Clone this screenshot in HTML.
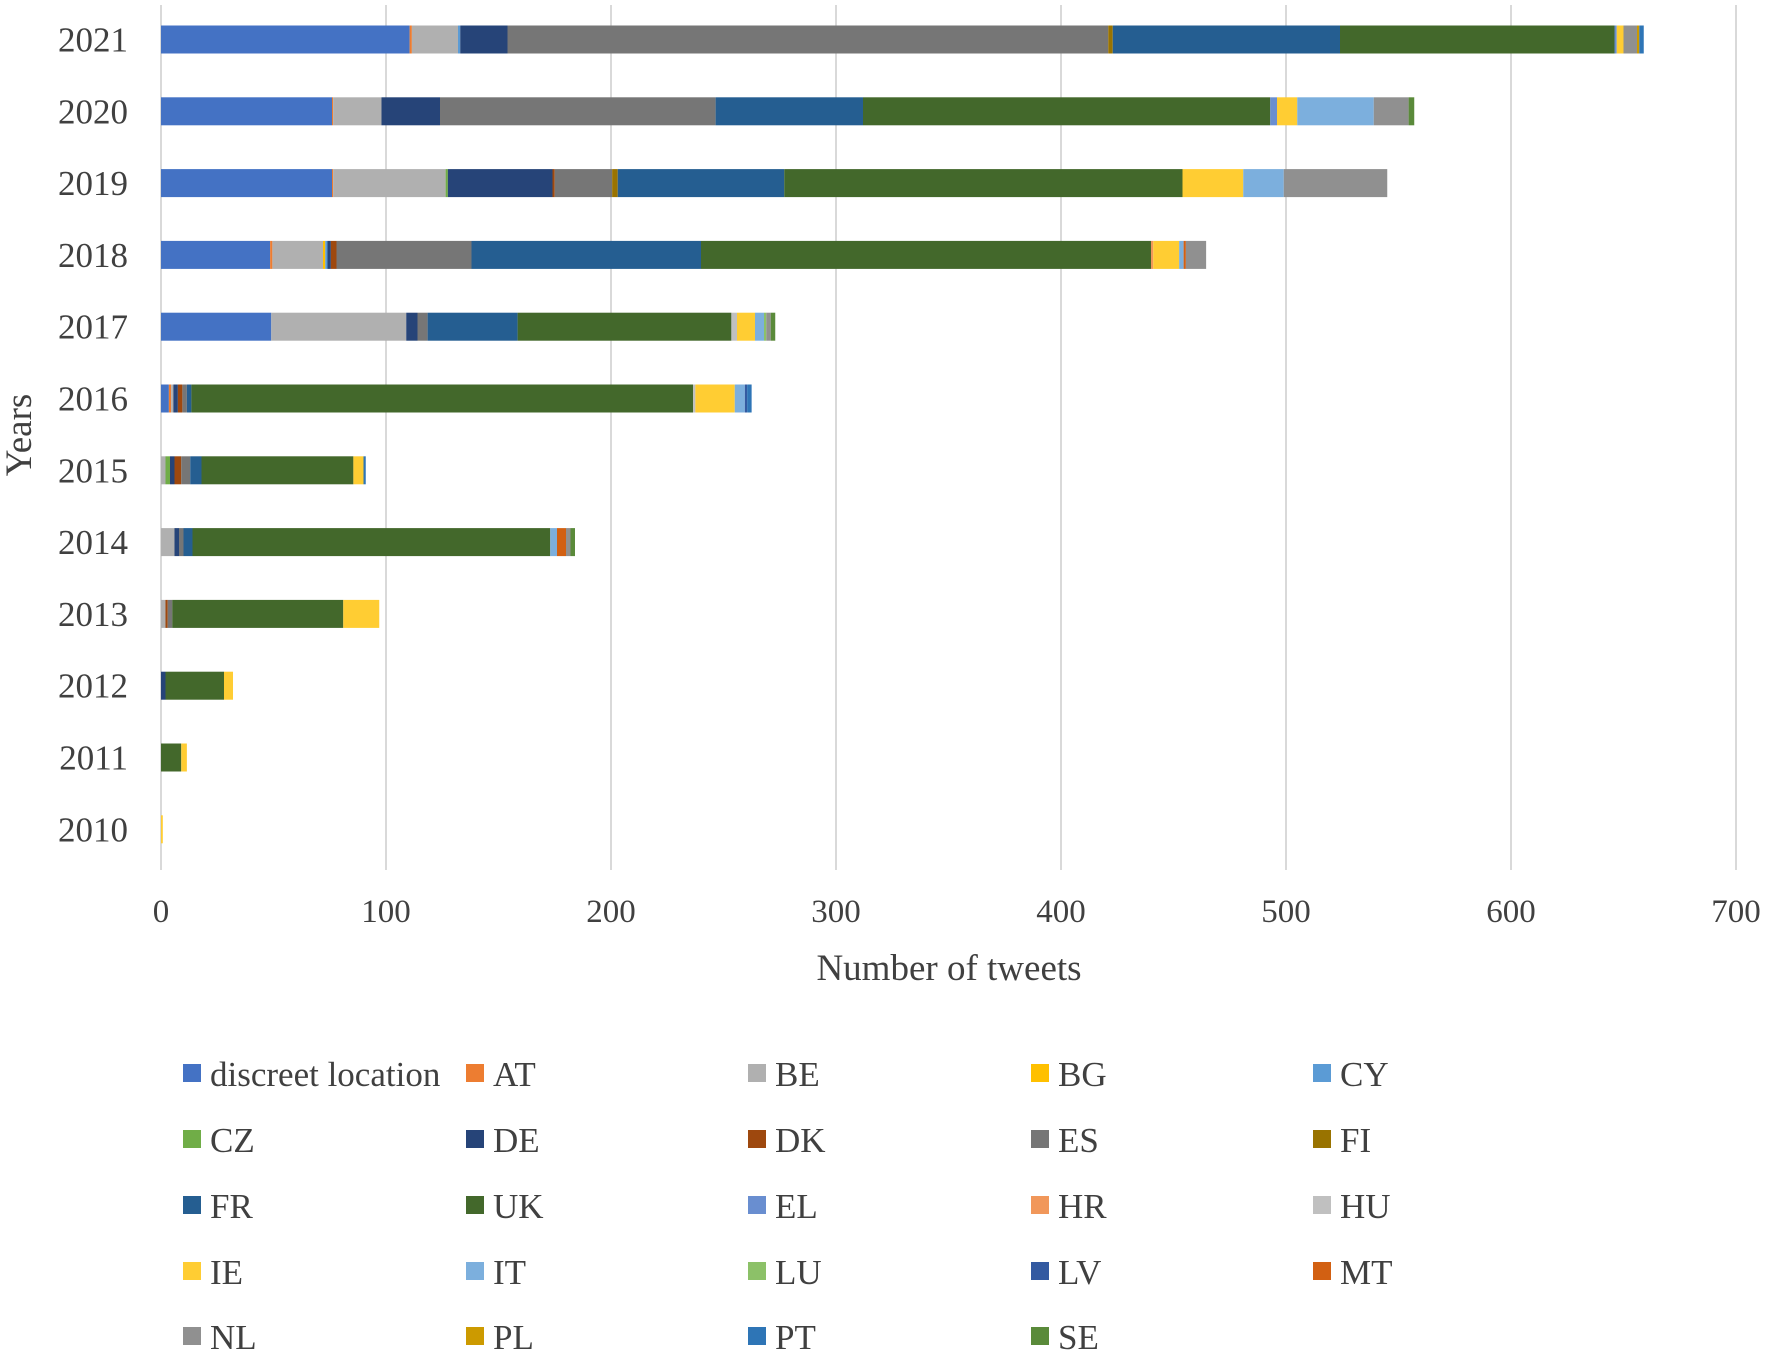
<!DOCTYPE html>
<html><head><meta charset="utf-8"><style>
html,body{margin:0;padding:0;background:#fff;}
svg{display:block;font-family:"Liberation Serif",serif;}
</style></head><body>
<svg id="chart" width="1772" height="1355"></svg>
<script>
const years = ["2021","2020","2019","2018","2017","2016","2015","2014","2013","2012","2011","2010"];
const seriesNames = ["discreet location","AT","BE","BG","CY","CZ","DE","DK","ES","FI","FR","UK","EL","HR","HU","IE","IT","LU","LV","MT","NL","PL","PT","SE"];
const seriesColors = ["#4472C4","#ED7D31","#B0B0B0","#FFC000","#5B9BD5","#70AD47","#264478","#9E480E","#767676","#997300","#255E91","#43682B","#698ED0","#F1975A","#C0C0C0","#FFCD33","#7CAFDD","#8CC168","#335AA1","#D26012","#909090","#CC9A00","#2E75B6","#5A8A3A"];
// values[year] in series order
const v2021 = [110.5,1,20.5,0,1,0,21,0,267,2,101,122,1,0,0,3,0,0,0,0,6,1,2,0];
const v2020 = [76,0.5,21.5,0,0,0,26,0,122.5,0,65.5,181,3,0,0,9,34,0,0,0,15.5,0,0,2.5];
const v2019 = [76,0.5,50,0,0,1,46.5,1,25.5,2.5,74,177,0,0,0,27,18,0,0,0,46,0,0,0];
const v2018 = [48.5,1,22.5,1,1,0,1.5,2.5,60,0,102,200,0,1,0,11.5,2,0,0,1,9,0,0,0];
const v2017 = [49,0,60,0,0,0,5,0,4.5,0,40,95,0,0,2.5,8,4,1,0,0,2,0,0,2];
const v2016 = [3.5,1,1,0,0,0,2,2,2,0,2,223,0,0,1,17.5,4.5,0,1,0,0,0,2,0];
const v2015 = [0,0,2,0,0,2,2,3,4,0,5,67.5,0,0,0,4.5,0,0,0,0,0,0,1,0];
const v2014 = [0,0,6,0,0,0,2,0,2,0,4,159,0,0,0,0,3,0,0,4,2,0,0,2];
const v2013 = [0,0,2,0,0,0,0,1,2,0,0,76,0,0,0,16,0,0,0,0,0,0,0,0];
const v2012 = [0,0,0,0,0,0,2,0,0,0,0,26,0,0,0,4,0,0,0,0,0,0,0,0];
const v2011 = [0,0,0,0,0,0,0,0,0,0,0,9,0,0,0,2.5,0,0,0,0,0,0,0,0];
const v2010 = [0,0,0,0,0,0,0,0,0,0,0,0,0,0,0,0.8,0,0,0,0,0,0,0,0];
const values = [v2021,v2020,v2019,v2018,v2017,v2016,v2015,v2014,v2013,v2012,v2011,v2010];
const xTicks = [0,100,200,300,400,500,600,700];

const NS="http://www.w3.org/2000/svg";
const svg=document.getElementById('chart');
const X0=161, XU=2.25, Y0=39.5, DY=71.8, BH=28;
const xs=v=>X0+v*XU;
const ys=i=>Y0+i*DY;
function mk(tag,attrs,parent){const e=document.createElementNS(NS,tag);for(const k in attrs)e.setAttribute(k,attrs[k]);(parent||svg).appendChild(e);return e;}

xTicks.forEach(t=>{
  const l=mk('line',{x1:xs(t),x2:xs(t),y1:5,y2:870,stroke:'#d9d9d9','stroke-width':2});
  
  
  const tx=mk('text',{x:xs(t),y:922,'font-size':33,'text-anchor':'middle',fill:'#404040'});
  tx.textContent=t;
  
  
});
years.forEach((y,i)=>{
  const tx=mk('text',{x:128,y:ys(i)+12,'font-size':35,'text-anchor':'end',fill:'#404040'});
  tx.textContent=y;
  
  
  let acc=0;
  values[i].forEach((v,s)=>{
    if(v<=0)return;
    const r=mk('rect',{x:xs(acc),y:ys(i)-BH/2,width:v*XU,height:BH,fill:seriesColors[s]});
    
    
    acc+=v;
  });
});
const xt=mk('text',{x:949,y:980,'font-size':37,'text-anchor':'middle',fill:'#404040'});
xt.textContent='Number of tweets';


const yt=mk('text',{x:0,y:0,'font-size':37,'text-anchor':'middle',fill:'#404040',transform:'translate(31,435) rotate(-90)'});
yt.textContent='Years';



const colX=[183,466,748,1031,1313], rowY=[1074,1140,1206,1272,1337];
seriesNames.forEach((n,s)=>{
  const cx=colX[s%5], cy=rowY[Math.floor(s/5)];
  const g=mk('g',{});
  
  
  mk('rect',{x:cx,y:cy-10,width:18,height:18,fill:seriesColors[s]},g);
  const t=mk('text',{x:cx+27,y:cy+12,'font-size':35,fill:'#404040'},g);
  t.textContent=n;
});
</script>
</body></html>
